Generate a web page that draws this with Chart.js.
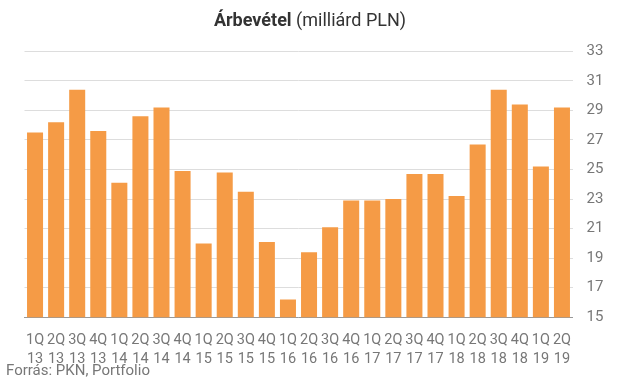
<!DOCTYPE html>
<html>
<head>
<meta charset="utf-8">
<script src="https://cdn.jsdelivr.net/npm/chart.js@4"></script>
<style>
  html, body { margin: 0; padding: 0; background: #fff; }
  #wrap { position: relative; width: 620px; height: 382px; overflow: hidden; }
  #c { position: absolute; left: 0; top: 0; }
  .cf { font-family: Roboto, sans-serif; }
  #title { position: absolute; left: 0; width: 620px; top: 9px; text-align: center; font-size: 18px; color: #333; white-space: nowrap; }
  #title b { font-weight: bold; }
  #source { position: absolute; left: 6px; top: 361px; font-size: 15px; color: #777; white-space: nowrap; }
</style>
</head>
<body>
<div id="wrap">
  <canvas id="c" width="620" height="382"></canvas>
  <div id="title" class="cf"><b>Árbevétel</b> (milliárd PLN)</div>
  <div id="source" class="cf">Forrás: PKN, Portfolio</div>
</div>
<script>
const quarters = ["1Q","2Q","3Q","4Q","1Q","2Q","3Q","4Q","1Q","2Q","3Q","4Q","1Q","2Q","3Q","4Q","1Q","2Q","3Q","4Q","1Q","2Q","3Q","4Q","1Q","2Q"];
const years = ["13","13","13","13","14","14","14","14","15","15","15","15","16","16","16","16","17","17","17","17","18","18","18","18","19","19"];
const revenue = [27.5, 28.2, 30.4, 27.6, 24.1, 28.6, 29.2, 24.9, 20.0, 24.8, 23.5, 20.1, 16.2, 19.4, 21.1, 22.9, 22.9, 23.0, 24.7, 24.7, 23.2, 26.7, 30.4, 29.4, 25.2, 29.2];
const yMin = 15, yMax = 33, yStep = 2;

const labels = quarters.map((q, i) => [q, years[i]]);
const FONT = 'Roboto, sans-serif';

new Chart(document.getElementById('c'), {
  type: 'bar',
  data: {
    labels: labels,
    datasets: [{
      data: revenue,
      backgroundColor: '#f59b46',
      borderWidth: 0,
      categoryPercentage: 1,
      barPercentage: 0.76
    }]
  },
  options: {
    responsive: false,
    animation: false,
    devicePixelRatio: 1,
    layout: { padding: { left: 24.5, right: 0, top: 51.3, bottom: 0 } },
    plugins: { legend: { display: false }, title: { display: false }, tooltip: { enabled: false } },
    scales: {
      x: {
        grid: { display: false, drawTicks: false },
        border: { display: true, color: '#999', width: 1 },
        ticks: {
          autoSkip: false, maxRotation: 0, minRotation: 0,
          color: '#777', padding: 13,
          font: { family: FONT, size: 14.5, lineHeight: 1.35 }
        },
        afterFit: s => { s.height = 64.7; }
      },
      y: {
        position: 'right',
        min: yMin, max: yMax,
        grid: { color: '#dddddd', lineWidth: 1, drawTicks: false },
        border: { display: false },
        ticks: {
          stepSize: yStep, color: '#777', padding: 14,
          font: { family: FONT, size: 15 }
        },
        afterFit: s => { s.width = 47.5; }
      }
    }
  }
});
</script>
</body>
</html>
